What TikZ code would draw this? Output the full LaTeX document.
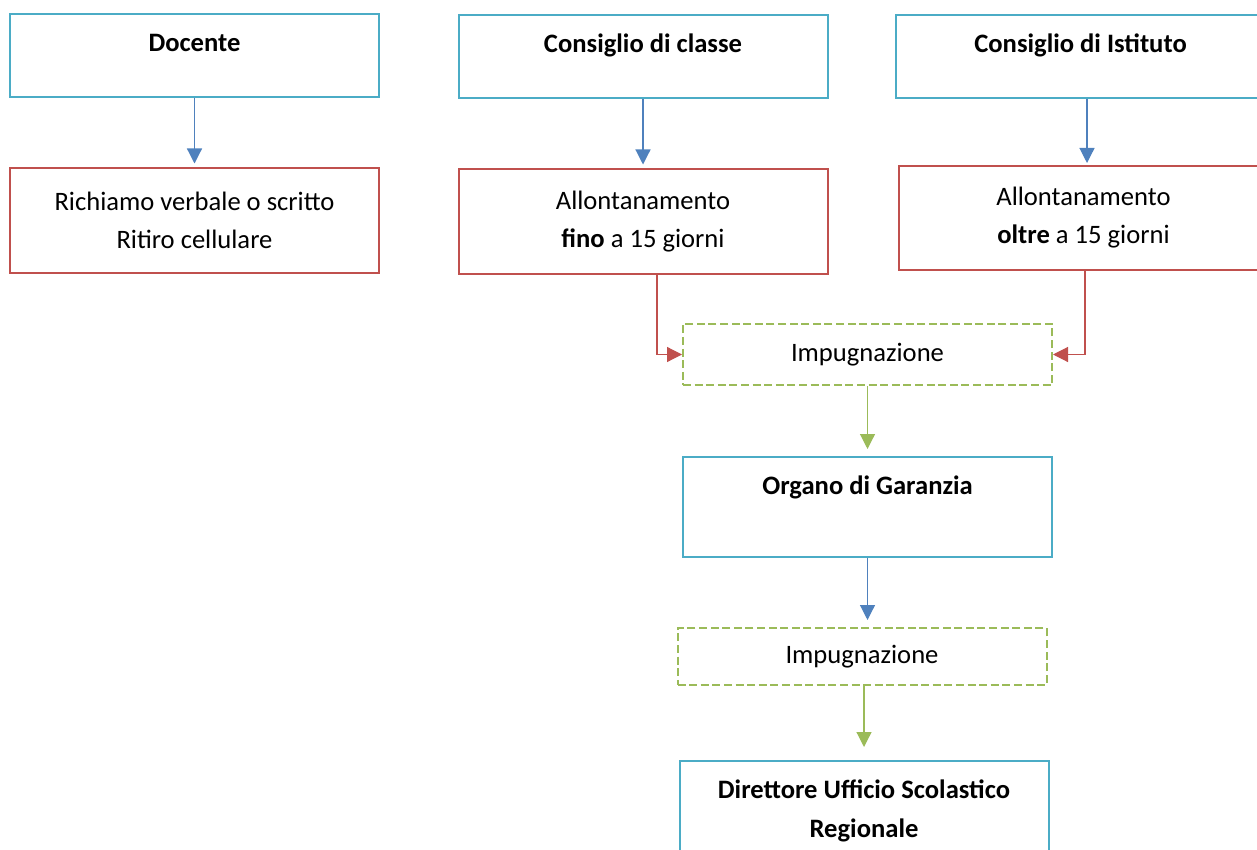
\documentclass[tikz,border=0pt]{standalone}
\usepackage{fontspec}
\setmainfont{Carlito}
\usepackage{tikz}
\usetikzlibrary{positioning,arrows.meta,calc}
\definecolor{boxcyan}{HTML}{4BACC6}
\definecolor{boxred}{HTML}{C0504D}
\definecolor{boxgreen}{HTML}{9BBB59}
\definecolor{arrowblue}{HTML}{4F81BD}

\begin{document}
\begin{tikzpicture}
[
  x=0.5pt, y=-0.5pt,
  every node/.style={font=\fontsize{13.3}{19}\selectfont},
  headbox/.style={draw=boxcyan, line width=1pt, minimum width=184.5pt, inner sep=0pt,
    text height=18.75pt, text depth=#1, font=\fontsize{13.3}{19.5}\selectfont\bfseries},
  headbox/.default=22.75pt,
  finalbox/.style={draw=boxcyan, line width=1pt, minimum width=184.5pt, minimum height=50pt,
    align=center, font=\fontsize{13.3}{19.5}\selectfont\bfseries},
  measure/.style={draw=boxred, line width=1pt, minimum width=184.5pt, minimum height=52pt, align=center},
  appeal/.style={draw=boxgreen, line width=1pt, dash pattern=on 4pt off 1.8pt,
    minimum width=184.5pt, minimum height=#1},
  flow/.style={draw=#1, line width=0.6pt, -{Triangle[length=7.5pt,width=7.5pt]}}
]
\useasboundingbox (0,0) rectangle (1257,850);
\clip (0,0) rectangle (1257,850);

\node (doc) [headbox] at (194.5,56) {Docente};
\node (cls) [headbox] at (643,57) {Consiglio di classe};
\node (ist) [headbox] at (1080.5,56.5) {Consiglio di Istituto};

\node (rich) [measure, below=34.5pt of doc] {Richiamo verbale o scritto\\Ritiro cellulare};
\node (fino) [measure, below=34.5pt of cls] {Allontanamento\\\textbf{fino} a 15 giorni};
\node (oltre) [measure, below=33pt of ist, xshift=1.5pt] {Allontanamento\\\textbf{oltre} a 15 giorni};

\node (imp1) [appeal=30.5pt] at (867.5,354.5) {Impugnazione};
\node (org) [headbox=31.25pt, below=35pt of imp1] {Organo di Garanzia};
\node (imp2) [appeal=28.5pt, below=34.5pt of org, xshift=-2.75pt] {Impugnazione};
\node (dir) [finalbox, below=37pt of imp2, xshift=1pt] {Direttore Ufficio Scolastico\\Regionale};

\draw [flow=arrowblue, shorten >=2pt] (doc) -- (rich);
\draw [flow=arrowblue, shorten >=2pt] (cls) -- (fino);
\draw [flow=arrowblue, shorten >=1pt] ([xshift=3.25pt]ist.south) -- ([xshift=3.25pt]ist.south |- oltre.north);

\draw [flow=boxred] ([xshift=7pt]fino.south) |- (imp1.west);
\draw [flow=boxred] ([xshift=0.75pt]oltre.south) |- (imp1.east);

\draw [flow=boxgreen, shorten >=3.5pt] (imp1) -- (org);
\draw [flow=arrowblue, shorten >=3.5pt] (org.south) -- (org.south |- imp2.north);
\draw [flow=boxgreen, shorten >=6.5pt] (dir.north |- imp2.south) -- (dir.north);
\end{tikzpicture}
\end{document}
